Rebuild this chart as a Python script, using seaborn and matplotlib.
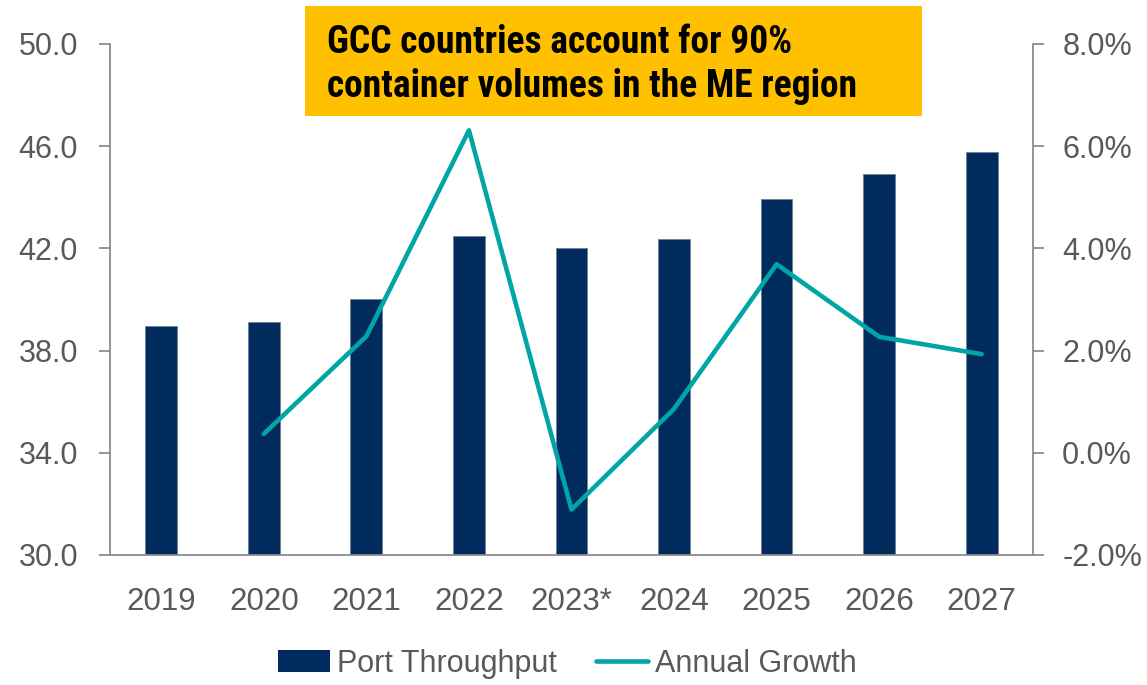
import numpy as np
import pandas as pd
import matplotlib
matplotlib.use("Agg")
import matplotlib.pyplot as plt
import seaborn as sns
from matplotlib.patches import Patch, Rectangle
from matplotlib.lines import Line2D
from matplotlib.ticker import FuncFormatter

# data
years = ["2019", "2020", "2021", "2022", "2023*", "2024", "2025", "2026", "2027"]
throughput = [38.95, 39.1, 40.0, 42.5, 42.0, 42.38, 43.92, 44.92, 45.77]
growth = [np.nan, 0.37, 2.28, 6.31, -1.11, 0.86, 3.69, 2.27, 1.93]

df = pd.DataFrame({"year": years, "throughput": throughput, "growth": growth})
df["pos"] = np.arange(len(df))

bar_col = "#002B5C"
line_col = "#00A6A6"
grey = "#595959"
axis_col = "#8C8C8C"

sns.set_style("white")
plt.rcParams["font.family"] = ["Liberation Sans", "DejaVu Sans"]
condensed = ["Roboto Condensed", "Liberation Sans Narrow", "Liberation Sans", "DejaVu Sans"]

fig = plt.figure(figsize=(11.47, 6.85), dpi=100)
ax = fig.add_axes([0.0959, 0.1898, 0.8047, 0.746])

sns.barplot(data=df, x="year", y="throughput", color=bar_col, width=0.31,
            saturation=1, ax=ax, edgecolor="#6F7F99", linewidth=0.6)
ax.set_ylim(30, 50)
ax.set_yticks(np.arange(30, 50.1, 4))
ax.yaxis.set_major_formatter(FuncFormatter(lambda v, p: f"{v:.1f}"))
ax.set_xlabel("")
ax.set_ylabel("")

ax2 = ax.twinx()
sns.lineplot(data=df, x="pos", y="growth", color=line_col, linewidth=3.3, ax=ax2)
ax2.set_ylim(-2, 8)
ax2.set_yticks(np.arange(-2, 8.1, 2))
ax2.yaxis.set_major_formatter(FuncFormatter(lambda v, p: f"{v:.1f}%"))
ax2.set_ylabel("")
ax2.set_xlabel("")
ax.set_xlim(-0.5, len(years) - 0.5)

for a in (ax, ax2):
    a.spines["top"].set_visible(False)
    for s in ("left", "right", "bottom"):
        a.spines[s].set_color(axis_col)
        a.spines[s].set_linewidth(1.3)
ax.spines["right"].set_visible(False)
ax2.spines["left"].set_visible(False)
ax2.spines["bottom"].set_visible(False)

ax.tick_params(axis="y", direction="out", length=8, width=1.3, color=axis_col,
               labelsize=22, labelcolor=grey, pad=15)
ax2.tick_params(axis="y", direction="out", length=8, width=1.3, color=axis_col,
                labelsize=22, labelcolor=grey, pad=13)
# x ticks sit at category boundaries
ax.set_xticks(np.arange(len(years)))
ax.set_xticklabels(years)
ax.set_xticks(np.arange(-0.5, len(years), 1), minor=True)
ax.tick_params(axis="x", which="major", length=0, labelsize=22.5, labelcolor=grey, pad=23)
ax.tick_params(axis="x", which="minor", length=8, width=1.3, color=axis_col, direction="out")

# callout box
fig.patches.append(Rectangle((0.2659, 0.8307), 0.538, 0.1606, transform=fig.transFigure,
                             facecolor="#FFC000", edgecolor="none", zorder=5))
fig.text(0.2851, 0.9226, "GCC countries account for 90%", family=condensed,
         fontweight="bold", fontsize=27, color="black", ha="left", va="baseline", zorder=6)
fig.text(0.2851, 0.8584, "container volumes in the ME region", family=condensed,
         fontweight="bold", fontsize=27, color="black", ha="left", va="baseline", zorder=6)

handles = [Patch(facecolor=bar_col, edgecolor="none"),
           Line2D([0], [0], color=line_col, linewidth=3.3)]
leg = fig.legend(handles, ["Port Throughput", "Annual Growth"], loc="center",
                 bbox_to_anchor=(0.4948, 0.031), ncol=2, frameon=False,
                 prop={"size": 22}, labelcolor=grey,
                 handlelength=1.7, handletextpad=0.23, columnspacing=1.27)

fig.savefig("out.png", dpi=100)
